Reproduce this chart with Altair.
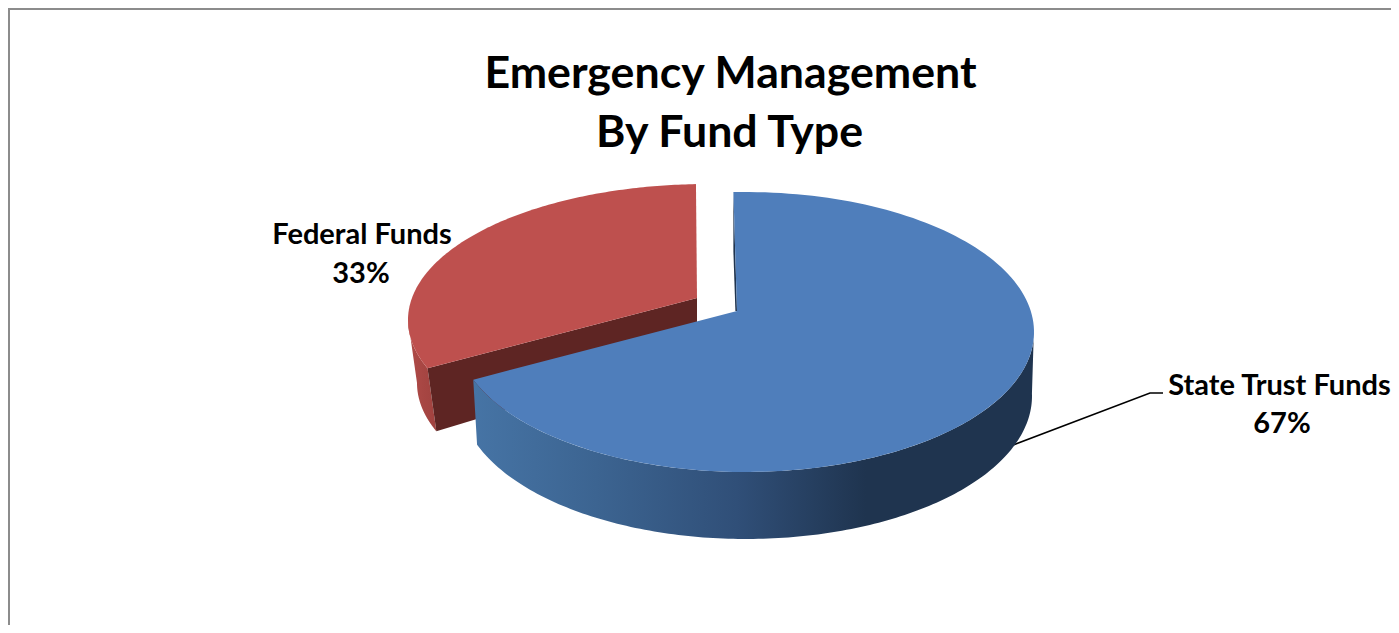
import cmath, math
import altair as alt

# ---- values ----
CATEGORIES = ["State Trust Funds", "Federal Funds"]
SHARES = [67, 33]
COLORS_TOP = ["#4F7EBB", "#BE504E"]
TITLE_LINES = ["Emergency Management", "By Fund Type"]

# ---- screen-space frame of the pie (ellipses) ----
OFFSET = 8
RIGHT = 1391
BOTTOM = 625
BLUE_TOP = (745, 332, 289, 140)
BLUE_BOT = (746, 396, 286, 143)
BLUE_APEX = (737, 311)
RED_TOP = (708, 320, 300, 136)
RED_BOT = (714, 383, 297, 136)
RED_APEX = (697, 298)
PERSP = complex(-0.016, -0.085)   # perspective shift of the disc centre
FIRST_EDGE = -92.3                # screen angle of the first slice edge
RED_CORNER_SHIFT = (2, 2)         # the exploded slice's corner sits slightly inward


def warp(theta, c=PERSP):
    z = cmath.exp(1j * theta)
    return cmath.phase((z + c) / (1 + c.conjugate() * z))


theta0 = warp(math.radians(FIRST_EDGE), -PERSP)
edge_blue_end = warp(theta0 + 2 * math.pi * SHARES[0] / sum(SHARES))
t_start = warp(theta0)
edge_red_start = edge_blue_end - math.radians(0.9)


def rim(ell, t0, t1, n=160):
    cx, cy, rx, ry = ell
    return [
        [cx + rx * math.cos(t0 + (t1 - t0) * i / n), cy + ry * math.sin(t0 + (t1 - t0) * i / n)]
        for i in range(n + 1)
    ]


def poly(points):
    return {
        "type": "Feature",
        "properties": {},
        "geometry": {"type": "Polygon", "coordinates": [points + [points[0]]]},
    }


PROJ = alt.Projection(type="identity", scale=1, translate=[-OFFSET, -OFFSET])


def shape(points, fill):
    return (
        alt.Chart(alt.Data(values=[poly(points)]))
        .mark_geoshape(fill=fill, stroke=None, strokeWidth=0)
        .project(**PROJ.to_dict())
    )


# red slice
red_wall = rim(RED_TOP, edge_red_start, math.pi) + rim(RED_BOT, math.pi, edge_red_start)
red_t1 = 2 * math.pi + t_start
red_top = rim(RED_TOP, edge_red_start, red_t1) + [list(RED_APEX)]
red_corner = rim(RED_TOP, edge_red_start, edge_red_start, 1)[0]
red_corner_b = rim(RED_BOT, edge_red_start, edge_red_start, 1)[0]
red_inner = [red_corner, list(RED_APEX), [RED_APEX[0], RED_APEX[1] + 54], red_corner_b]

# blue slice
blue_wall = rim(BLUE_TOP, -0.02, edge_blue_end) + rim(BLUE_BOT, edge_blue_end, -0.02)
blue_top = rim(BLUE_TOP, t_start, edge_blue_end) + [list(BLUE_APEX)]
blue_first = rim(BLUE_TOP, t_start, t_start, 1)[0]
blue_sliver = [blue_first, [blue_first[0], blue_first[1] + 60], [BLUE_APEX[0] - 1.6, BLUE_APEX[1]], list(BLUE_APEX)]

blue_gradient = alt.LinearGradient(
    gradient="linear", x1=0, x2=1, y1=0, y2=0,
    stops=[
        alt.GradientStop(color="#4674A5", offset=0),
        alt.GradientStop(color="#3C6491", offset=0.22),
        alt.GradientStop(color="#304F78", offset=0.47),
        alt.GradientStop(color="#1F344F", offset=0.70),
        alt.GradientStop(color="#1F344F", offset=1),
    ],
)
red_gradient = alt.LinearGradient(
    gradient="linear", x1=0, x2=1, y1=0, y2=0,
    stops=[alt.GradientStop(color="#B04B48", offset=0), alt.GradientStop(color="#A0423F", offset=1)],
)

X = alt.X("x:Q", axis=None, scale=alt.Scale(domain=[OFFSET, RIGHT], range=[0, RIGHT - OFFSET]))
Y = alt.Y("y:Q", axis=None, scale=alt.Scale(domain=[OFFSET, BOTTOM], range=[0, BOTTOM - OFFSET]))


def text(lines, size):
    return (
        alt.Chart(alt.Data(values=lines))
        .mark_text(font="Lato", fontWeight="bold", fontSize=size, color="#000000", align="center", baseline="alphabetic")
        .encode(x=X, y=Y, text="t:N")
    )


def line(points, color, width):
    return (
        alt.Chart(alt.Data(values=[{"x": p[0], "y": p[1], "i": i} for i, p in enumerate(points)]))
        .mark_line(color=color, strokeWidth=width)
        .encode(x=X, y=Y, order="i:Q")
    )


title_text = text([
    {"t": TITLE_LINES[0], "x": 730.5, "y": 88},
    {"t": TITLE_LINES[1], "x": 729.5, "y": 147},
], 44.7)
label_text = text([
    {"t": CATEGORIES[0], "x": 1279.5, "y": 395},
    {"t": f"{SHARES[0]}%", "x": 1282, "y": 433},
    {"t": CATEGORIES[1], "x": 362, "y": 244},
    {"t": f"{SHARES[1]}%", "x": 361, "y": 283},
], 29)

border = line([[OFFSET + 1, BOTTOM], [OFFSET + 1, OFFSET + 1], [RIGHT, OFFSET + 1]], "#8C8C8C", 2)
leader = line([[1008, 447], [1150, 393], [1163, 393]], "#000000", 1.6)

chart = alt.layer(
    border,
    shape(red_wall, red_gradient),
    shape(red_inner, "#5E2523"),
    shape(red_top, COLORS_TOP[1]),
    leader,
    shape(blue_sliver, "#1F344F"),
    shape(blue_wall, blue_gradient),
    shape(blue_top, COLORS_TOP[0]),
    title_text,
    label_text,
).properties(
    width=RIGHT - OFFSET, height=BOTTOM - OFFSET, padding=0, autosize=alt.AutoSizeParams(type="none")
).configure_view(stroke=None)

chart.save("out.html", embed_options={"renderer": "svg", "actions": False})
